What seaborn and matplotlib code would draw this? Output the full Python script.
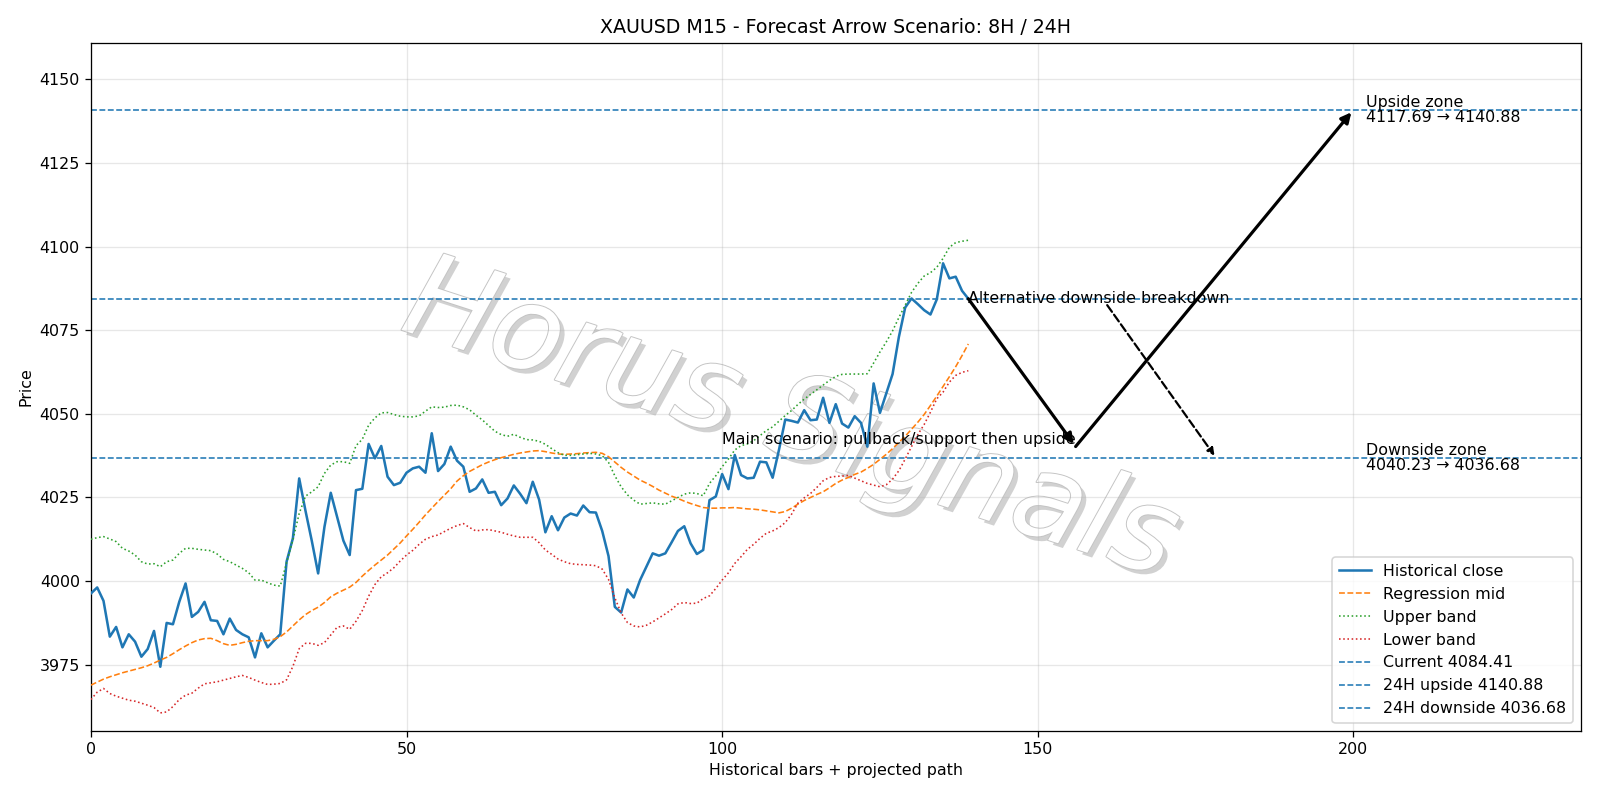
import numpy as np
import pandas as pd
import matplotlib
matplotlib.use("Agg")
import matplotlib.pyplot as plt
import matplotlib.patheffects as pe
import seaborn as sns

# ---------------- data ----------------
close = [3996.3, 3998.1, 3994.1, 3983.4, 3986.3, 3980.2, 3984.1, 3981.9, 3977.4, 3979.7,
         3985.1, 3974.4, 3987.5, 3987.1, 3993.8, 3999.3, 3989.3, 3990.8, 3993.8, 3988.3,
         3988.1, 3984.1, 3988.8, 3985.4, 3984.1, 3983.2, 3977.2, 3984.4, 3980.2, 3982.2,
         3984.1, 4005.8, 4012.8, 4030.7, 4021.0, 4012.0, 4002.3, 4016.2, 4026.4, 4019.2,
         4012.1, 4007.8, 4027.2, 4027.6, 4041.0, 4036.7, 4040.4, 4031.2, 4028.7, 4029.4,
         4032.4, 4033.7, 4034.2, 4032.4, 4044.2, 4032.9, 4035.0, 4040.2, 4036.0, 4034.2,
         4026.7, 4027.7, 4030.4, 4026.4, 4026.7, 4022.7, 4024.7, 4028.6, 4026.1, 4023.3,
         4029.7, 4024.4, 4014.6, 4019.4, 4015.2, 4019.0, 4020.2, 4019.6, 4022.6, 4020.6,
         4020.5, 4015.0, 4007.5, 3992.3, 3990.6, 3997.5, 3995.1, 4000.3, 4004.3, 4008.3,
         4007.6, 4008.3, 4011.6, 4015.0, 4016.4, 4011.3, 4008.1, 4009.3, 4024.2, 4025.3,
         4032.0, 4027.5, 4037.7, 4031.7, 4030.7, 4030.9, 4035.7, 4035.5, 4030.9, 4039.2,
         4048.3, 4047.9, 4047.4, 4051.1, 4048.1, 4048.3, 4054.8, 4047.3, 4052.9, 4047.1,
         4045.9, 4049.3, 4047.3, 4040.2, 4059.1, 4050.3, 4056.1, 4061.9, 4073.0, 4081.8,
         4084.5, 4082.8, 4081.0, 4079.7, 4084.2, 4095.0, 4090.5, 4091.0, 4086.8, 4084.41]

reg_mid = [3968.9, 3969.8, 3970.7, 3971.4, 3972.0, 3972.6, 3973.1, 3973.6, 3974.1, 3974.7,
           3975.5, 3976.4, 3977.2, 3978.3, 3979.5, 3980.6, 3981.6, 3982.4, 3982.8, 3982.9,
           3982.2, 3981.3, 3980.8, 3981.1, 3981.6, 3982.0, 3982.2, 3982.2, 3982.2, 3982.6,
           3983.4, 3984.8, 3986.6, 3988.4, 3990.0, 3991.2, 3992.2, 3993.6, 3995.3, 3996.4,
           3997.3, 3998.2, 3999.6, 4001.5, 4003.2, 4004.8, 4006.3, 4007.8, 4009.6, 4011.4,
           4013.5, 4015.5, 4017.6, 4019.8, 4021.8, 4023.8, 4025.7, 4027.6, 4029.9, 4031.5,
           4032.8, 4033.8, 4034.8, 4035.6, 4036.3, 4036.9, 4037.4, 4037.9, 4038.3, 4038.6,
           4038.9, 4039.0, 4038.7, 4038.3, 4038.0, 4037.9, 4038.0, 4038.1, 4038.3, 4038.4,
           4038.5, 4038.2, 4037.2, 4035.6, 4034.0, 4032.6, 4031.4, 4030.2, 4029.3, 4028.3,
           4027.2, 4026.3, 4025.4, 4024.7, 4023.9, 4023.2, 4022.6, 4022.0, 4021.8, 4021.8,
           4021.9, 4021.9, 4022.0, 4021.8, 4021.6, 4021.5, 4021.3, 4021.0, 4020.7, 4020.4,
           4020.8, 4021.8, 4023.0, 4024.1, 4025.0, 4025.9, 4026.7, 4027.9, 4029.2, 4030.2,
           4031.0, 4031.9, 4032.6, 4033.7, 4034.9, 4036.4, 4037.9, 4039.6, 4041.5, 4043.3,
           4045.4, 4047.5, 4049.8, 4052.5, 4055.3, 4058.2, 4061.1, 4064.1, 4067.4, 4070.9]

upper_band = [4012.5, 4013.0, 4013.3, 4012.6, 4011.8, 4009.8, 4009.0, 4007.8, 4005.8, 4005.1,
              4005.2, 4004.3, 4005.8, 4006.3, 4008.3, 4009.8, 4009.8, 4009.5, 4009.3, 4009.1,
              4008.1, 4006.5, 4005.8, 4004.8, 4003.8, 4002.5, 4000.3, 4000.3, 3999.5, 3998.8,
              3998.5, 4005.5, 4012.3, 4020.2, 4025.4, 4026.7, 4028.2, 4032.2, 4034.7, 4035.7,
              4035.7, 4035.2, 4040.5, 4042.4, 4046.6, 4048.8, 4050.3, 4050.4, 4049.8, 4049.3,
              4049.1, 4049.1, 4049.4, 4050.8, 4052.1, 4051.9, 4052.0, 4052.5, 4052.6, 4052.1,
              4051.2, 4049.6, 4048.2, 4046.5, 4044.8, 4043.8, 4043.3, 4043.9, 4043.0, 4042.3,
              4042.2, 4041.8, 4040.9, 4039.6, 4038.4, 4037.6, 4037.6, 4037.8, 4038.0, 4038.2,
              4038.0, 4037.5, 4035.5, 4031.5, 4028.2, 4025.8, 4024.2, 4023.0, 4023.2, 4023.4,
              4023.1, 4023.0, 4024.0, 4025.0, 4026.0, 4026.4, 4026.2, 4025.5, 4029.2, 4031.5,
              4034.2, 4036.5, 4039.2, 4040.5, 4041.0, 4042.0, 4043.5, 4045.0, 4046.1, 4047.8,
              4049.5, 4051.0, 4052.8, 4054.4, 4055.8, 4057.2, 4058.6, 4060.0, 4061.2, 4061.8,
              4061.9, 4061.9, 4061.9, 4062.0, 4065.2, 4068.5, 4071.5, 4074.8, 4078.8, 4082.5,
              4086.3, 4089.0, 4091.2, 4092.2, 4093.8, 4096.5, 4099.8, 4101.2, 4101.6, 4101.9]

lower_band = [3964.6, 3966.8, 3967.9, 3966.4, 3965.6, 3965.0, 3964.4, 3964.1, 3963.5, 3962.9,
              3962.2, 3960.6, 3960.9, 3962.5, 3964.6, 3965.9, 3966.5, 3968.0, 3969.3, 3969.6,
              3969.9, 3970.4, 3970.9, 3971.4, 3971.8, 3971.2, 3970.4, 3969.7, 3969.1, 3969.2,
              3969.4, 3970.5, 3974.5, 3979.8, 3981.4, 3981.4, 3980.8, 3981.6, 3983.9, 3986.2,
              3986.6, 3985.6, 3988.0, 3991.2, 3995.5, 3999.0, 4001.3, 4002.5, 4004.0, 4006.0,
              4007.8, 4009.2, 4011.0, 4012.5, 4013.3, 4013.8, 4014.8, 4015.8, 4016.6, 4017.2,
              4016.0, 4015.0, 4015.3, 4015.4, 4015.0, 4014.6, 4014.0, 4013.5, 4013.1, 4013.1,
              4013.1, 4011.5, 4009.3, 4008.0, 4006.6, 4005.8, 4005.2, 4005.0, 4004.9, 4004.8,
              4004.6, 4003.6, 4000.5, 3995.0, 3990.5, 3987.6, 3986.6, 3986.3, 3986.8, 3987.8,
              3989.0, 3990.2, 3991.5, 3993.2, 3993.6, 3993.3, 3993.4, 3994.8, 3995.6, 3997.8,
              4000.3, 4002.5, 4005.3, 4007.3, 4009.5, 4011.0, 4012.8, 4014.3, 4015.0, 4016.0,
              4017.5, 4020.0, 4023.3, 4024.9, 4026.2, 4028.0, 4030.0, 4031.0, 4031.3, 4031.4,
              4031.6, 4030.8, 4030.0, 4029.2, 4028.7, 4028.2, 4028.8, 4030.5, 4033.0, 4036.5,
              4040.2, 4043.8, 4046.8, 4050.5, 4054.5, 4056.5, 4059.5, 4061.5, 4062.4, 4062.9]

current_price = 4084.41
upside_24h = 4140.88
downside_24h = 4036.68
upside_zone = (4117.69, 4140.88)
downside_zone = (4040.23, 4036.68)
pullback_level = 4040.23

# scenario path points (bar index, price)
main_path_x = [139, 156, 200]
main_path_y = [current_price, pullback_level, upside_24h]
alt_path_x = [161, 178]
alt_path_y = [4082.5, 4037.5]

projection_bars = 96  # 24H of M15 bars

bars = np.arange(len(close))
df = pd.DataFrame({"bar": bars, "close": close, "mid": reg_mid,
                   "upper": upper_band, "lower": lower_band})

# ---------------- plot ----------------
DPI = 1600 / 14
fig, ax = plt.subplots(figsize=(14, 7), dpi=DPI)
fig.subplots_adjust(left=0.0568, right=0.9879, bottom=0.0867, top=0.9464)

blue = "#1f77b4"
sns.lineplot(data=df, x="bar", y="close", ax=ax, color=blue, linewidth=1.6,
             label="Historical close", zorder=3)
sns.lineplot(data=df, x="bar", y="mid", ax=ax, color="#ff7f0e", linewidth=1.0,
             linestyle="--", label="Regression mid", zorder=3)
sns.lineplot(data=df, x="bar", y="upper", ax=ax, color="#2ca02c", linewidth=1.0,
             linestyle=":", label="Upper band", zorder=3)
sns.lineplot(data=df, x="bar", y="lower", ax=ax, color="#d62728", linewidth=1.0,
             linestyle=":", label="Lower band", zorder=3)

ax.axhline(current_price, color=blue, linestyle="--", linewidth=1,
           label=f"Current {current_price:.2f}", zorder=2)
ax.axhline(upside_24h, color=blue, linestyle="--", linewidth=1,
           label=f"24H upside {upside_24h:.2f}", zorder=2)
ax.axhline(downside_24h, color=blue, linestyle="--", linewidth=1,
           label=f"24H downside {downside_24h:.2f}", zorder=2)

# main scenario arrows
for k in range(len(main_path_x) - 1):
    ax.annotate("", xy=(main_path_x[k + 1], main_path_y[k + 1]),
                xytext=(main_path_x[k], main_path_y[k]),
                arrowprops=dict(arrowstyle="-|>", color="black", lw=2.0,
                                mutation_scale=13, shrinkA=0, shrinkB=2),
                zorder=4)
# alternative scenario arrow
ax.annotate("", xy=(alt_path_x[1], alt_path_y[1]), xytext=(alt_path_x[0], alt_path_y[0]),
            arrowprops=dict(arrowstyle="-|>", color="black", lw=1.4, linestyle="--",
                            mutation_scale=9, shrinkA=0, shrinkB=0),
            zorder=4)

ax.text(main_path_x[1], pullback_level, "Main scenario: pullback/support then upside",
        ha="right", va="bottom", fontsize=10, zorder=5)
ax.text(main_path_x[0], current_price, "Alternative downside breakdown",
        ha="left", va="center", fontsize=10, zorder=5)
ax.text(202, upside_24h, f"Upside zone\n{upside_zone[0]:.2f} \u2192 {upside_zone[1]:.2f}",
        ha="left", va="center", fontsize=10, linespacing=1.0, zorder=5)
ax.text(202, downside_24h, f"Downside zone\n{downside_zone[0]:.2f} \u2192 {downside_zone[1]:.2f}",
        ha="left", va="center", fontsize=10, linespacing=1.0, zorder=5)

# watermark
ax.text(0.494, 0.473, "Horus Signals", transform=fig.transFigure, ha="center", va="center",
        fontsize=74, style="italic", rotation=-18, color="white", zorder=1,
        path_effects=[pe.SimplePatchShadow(offset=(3, -3), shadow_rgbFace="#9a9a9a", alpha=0.45),
                      pe.Stroke(linewidth=1.2, foreground="#c4c4c4"),
                      pe.Normal()])

ax.set_xlim(0, len(close) - 1 + projection_bars + 1)
ax.set_ylim(3955.3, 4160.9)
ax.set_yticks(np.arange(3975, 4151, 25))
ax.set_xticks([0, 50, 100, 150, 200])
ax.grid(True, alpha=0.3)
ax.set_title("XAUUSD M15 - Forecast Arrow Scenario: 8H / 24H", fontsize=12)
ax.set_xlabel("Historical bars + projected path")
ax.set_ylabel("Price")
ax.legend(loc="lower right", fontsize=10)

fig.savefig("out.png", dpi=DPI)
